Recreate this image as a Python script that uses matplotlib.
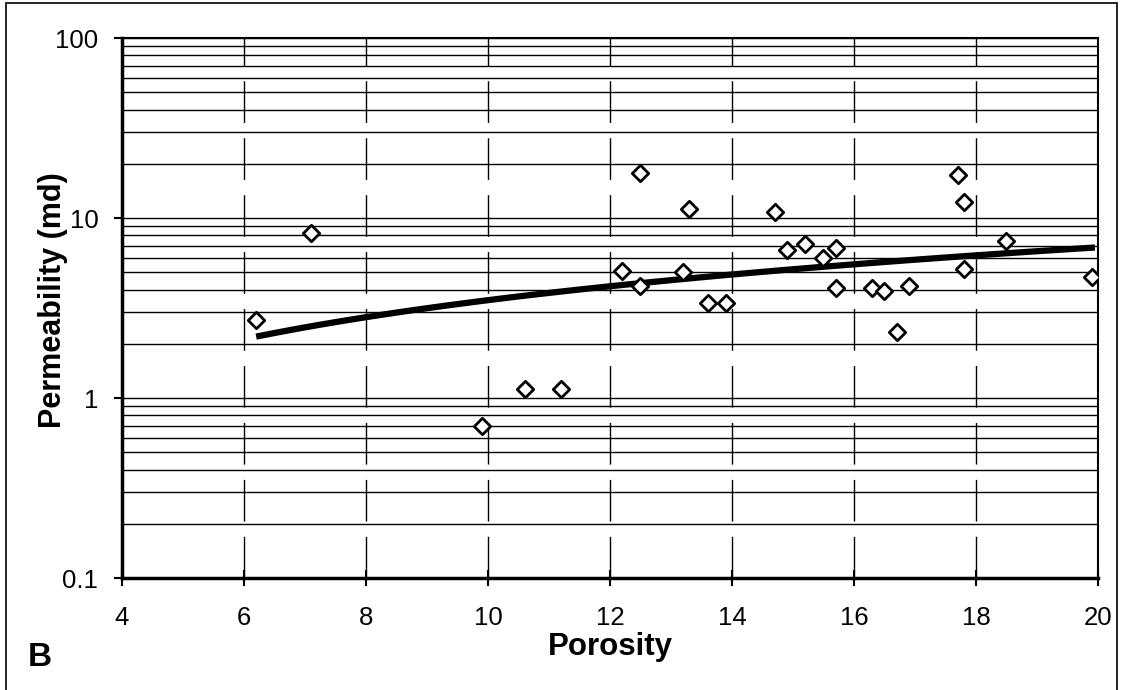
"""Porosity vs permeability cross-plot with power-law trend (panel B)."""
import numpy as np
import matplotlib
matplotlib.use("Agg")
from matplotlib import pyplot as plt
from matplotlib.patches import Rectangle
from matplotlib.ticker import FixedLocator, LogLocator, NullFormatter

plt.rcParams["font.family"] = ["Liberation Sans", "DejaVu Sans"]

# values
porosity = [6.2, 7.1, 9.9, 10.6, 11.2, 12.2, 12.5, 12.5, 13.2, 13.3, 13.6, 13.9,
            14.7, 14.9, 15.2, 15.5, 15.7, 15.7, 16.3, 16.5, 16.7, 16.9,
            17.7, 17.8, 17.8, 18.5, 19.9]
permeability = [2.7, 8.3, 0.70, 1.12, 1.12, 5.1, 17.7, 4.2, 5.0, 11.2, 3.36, 3.36,
                10.8, 6.6, 7.2, 6.0, 6.8, 4.1, 4.1, 3.95, 2.34, 4.2,
                17.3, 12.2, 5.2, 7.5, 4.7]
trend_x = [6.2, 19.95]
x_ticks = [4, 6, 8, 10, 12, 14, 16, 18, 20]
y_ticks = [0.1, 1, 10, 100]
y_tick_labels = ["0.1", "1", "10", "100"]

# power-law trend (fit in log-log space, like a spreadsheet power trendline)
b, log_a = np.polyfit(np.log(porosity), np.log(permeability), 1)
fit_x = np.linspace(trend_x[0], trend_x[1], 100)
fit_y = np.exp(log_a) * fit_x ** b

fig = plt.figure(figsize=(11.23, 6.9), dpi=100)
ax = fig.add_axes([0.1086, 0.1623, 0.8691, 0.7826])

ax.set_yscale("log")
ax.set_xlim(4, 20)
ax.set_ylim(0.1, 100)

# horizontal grid at every log step, dashed vertical grid at each x tick
ax.yaxis.set_major_locator(FixedLocator(y_ticks))
ax.yaxis.set_minor_locator(LogLocator(base=10, subs=np.arange(2, 10)))
ax.yaxis.set_minor_formatter(NullFormatter())
ax.set_yticks(y_ticks)
ax.set_yticklabels(y_tick_labels)
ax.set_xticks(x_ticks)
ax.grid(True, which="major", axis="y", color="black", linewidth=1.0)
ax.grid(True, which="minor", axis="y", color="black", linewidth=1.0)
ax.grid(True, which="major", axis="x", color="black", linewidth=1.0,
        linestyle=(0, (30, 11)))

ax.plot(fit_x, fit_y, color="black", linewidth=4.5, solid_capstyle="butt", zorder=3)
ax.scatter(porosity, permeability, marker="D", s=70, facecolors="white",
           edgecolors="black", linewidths=2.0, zorder=4)

ax.tick_params(axis="x", which="major", direction="inout", length=11, width=1.5,
               labelsize=18.5, pad=15)
ax.tick_params(axis="y", which="major", direction="out", length=6, width=1.5,
               labelsize=18.5, pad=11)
ax.tick_params(axis="y", which="minor", length=0)

for side in ["left", "bottom"]:
    ax.spines[side].set_linewidth(2.5)
for side in ["top", "right"]:
    ax.spines[side].set_linewidth(1.5)

ax.set_xlabel("Porosity", fontsize=22.5, fontweight="bold", labelpad=1)
ax.set_ylabel("Permeability (md)", fontsize=22, fontweight="bold")
ax.yaxis.set_label_coords(-0.055, 0.515)

fig.text(0.025, 0.025, "B", fontsize=24, fontweight="bold", ha="left", va="bottom")
fig.patches.append(Rectangle((0.005, -0.01), 0.99, 1.005, transform=fig.transFigure,
                             fill=False, edgecolor="black", linewidth=1.2))

fig.savefig("out.png", dpi=100)
plt.close(fig)
